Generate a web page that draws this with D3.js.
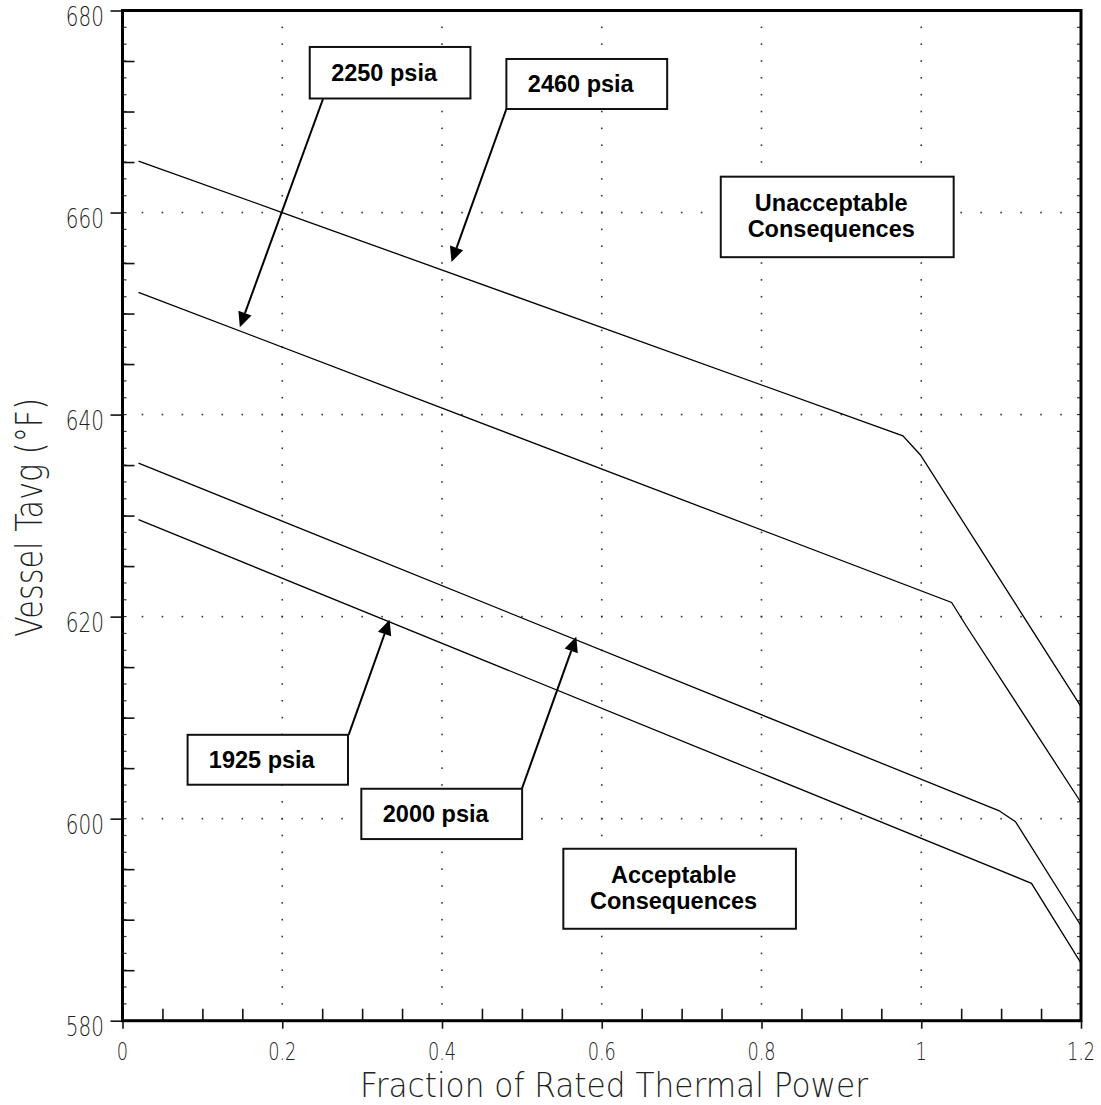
<!DOCTYPE html>
<html>
<head>
<meta charset="utf-8">
<script src="https://cdn.jsdelivr.net/npm/d3@7"></script>
<style>
  html, body { margin: 0; padding: 0; background: #fff; }
  svg { display: block; }
</style>
</head>
<body>
<svg id="chart" width="1101" height="1105"></svg>
<script>
// ---------------- DATA ----------------
const xTicks = [0, 0.2, 0.4, 0.6, 0.8, 1, 1.2];
const xTickLabels = ["0", "0.2", "0.4", "0.6", "0.8", "1", "1.2"];
const yTicks = [580, 600, 620, 640, 660, 680];
const yTickLabels = ["580", "600", "620", "640", "660", "680"];

// Series: x = fraction of rated thermal power, y = vessel Tavg (F)
const seriesNames = ["2460 psia", "2250 psia", "2000 psia", "1925 psia"];
const p2460x = [0.02, 0.2, 0.977, 0.999, 1.2];
const p2460y = [665.1, 660.0, 637.9, 636.0, 611.1];
const p2250x = [0.02, 1.038, 1.057, 1.2];
const p2250y = [652.1, 621.4, 619.0, 601.6];
const p2000x = [0.02, 1.097, 1.118, 1.2];
const p2000y = [635.2, 600.8, 599.7, 589.4];
const p1925x = [0.02, 1.138, 1.2];
const p1925y = [629.6, 593.6, 585.7];

const xTitle = "Fraction of Rated Thermal Power";
const yTitle = "Vessel Tavg (\u00B0F)";

// Annotation text
const boxLabels = [["2250 psia"], ["2460 psia"], ["Unacceptable", "Consequences"],
                   ["1925 psia"], ["2000 psia"], ["Acceptable", "Consequences"]];

// ---------------- LAYOUT ----------------
const svg = d3.select("#chart");
const x = d3.scaleLinear().domain([0, 1.2]).range([122.5, 1081]);
const y = d3.scaleLinear().domain([580, 680]).range([1020.7, 10.5]);

// annotation geometry in data units [x0, yTop, x1, yBottom]
const boxGeom = [
  [0.2344, 676.39, 0.4356, 671.29],
  [0.4806, 675.20, 0.6819, 670.25],
  [0.7490, 663.55, 1.0406, 655.58],
  [0.0815, 608.30, 0.2823, 603.36],
  [0.2990, 602.96, 0.5003, 597.98],
  [0.5519, 597.02, 0.8431, 589.10]
];
// arrows: [xFrom, yFrom, xTip, yTip]
const arrowGeom = [
  [0.2510, 671.24, 0.1469, 648.65],
  [0.4806, 670.25, 0.4119, 655.11],
  [0.2831, 608.30, 0.3344, 619.68],
  [0.5000, 602.96, 0.5681, 618.00]
];

// ---------------- GRID (dotted) ----------------
const grid = svg.append("g").attr("fill", "#333");
const gridX = [0.2, 0.4, 0.6, 0.8, 1.0];
const gridY = [600, 620, 640, 660];
const vDotVals = d3.range(1, 60).map(k => 580 + k * 5 / 3);
const hDotVals = d3.range(1, 48).map(k => k * 0.025);
gridX.forEach(gx => {
  grid.selectAll(null).data(vDotVals).enter().append("rect")
    .attr("x", x(gx) - 0.8).attr("y", d => y(d) - 0.8)
    .attr("width", 1.6).attr("height", 1.6);
});
gridY.forEach(gy => {
  grid.selectAll(null).data(hDotVals).enter().append("rect")
    .attr("x", d => x(d) - 0.8).attr("y", y(gy) - 0.8)
    .attr("width", 1.6).attr("height", 1.6);
});
// small marks along left/right frame
[0, 1.2].forEach(ex => {
  grid.selectAll(null).data(vDotVals).enter().append("rect")
    .attr("x", ex === 0 ? x(ex) : x(ex) - 4).attr("y", d => y(d) - 0.6)
    .attr("width", 4).attr("height", 1.2);
});

// ---------------- SERIES ----------------
const line = d3.line().x(d => x(d[0])).y(d => y(d[1]));
const allSeries = [
  d3.zip(p2460x, p2460y), d3.zip(p2250x, p2250y),
  d3.zip(p2000x, p2000y), d3.zip(p1925x, p1925y)
];
svg.append("g").selectAll("path").data(allSeries).enter().append("path")
  .attr("d", line).attr("fill", "none").attr("stroke", "#000").attr("stroke-width", 1.3);

// ---------------- AXES ----------------
const tickFont = "'DejaVu Sans', sans-serif";
// bottom: major ticks outward
svg.append("g").attr("transform", `translate(0,${y(580)})`)
  .call(d3.axisBottom(x).tickValues(xTicks).tickSize(8).tickFormat(""));
// bottom minor inward
svg.append("g").attr("transform", `translate(0,${y(580)})`)
  .call(d3.axisTop(x).tickValues(d3.range(1, 24).map(k => k * 0.05).filter(v => Math.abs(v * 5 - Math.round(v * 5)) > 1e-6))
        .tickSize(12).tickFormat(""));
// left: major ticks outward
svg.append("g").attr("transform", `translate(${x(0)},0)`)
  .call(d3.axisLeft(y).tickValues(yTicks).tickSize(12).tickFormat(""));
// left minor inward
svg.append("g").attr("transform", `translate(${x(0)},0)`)
  .call(d3.axisRight(y).tickValues(d3.range(585, 680, 5).filter(v => v % 20 !== 0)).tickSize(12).tickFormat(""));

svg.selectAll(".domain").remove();
svg.selectAll(".tick line").attr("stroke", "#111").attr("stroke-width", 1.6);

// frame
svg.append("rect").attr("x", x(0)).attr("y", y(680))
  .attr("width", x(1.2) - x(0)).attr("height", y(580) - y(680))
  .attr("fill", "none").attr("stroke", "#000").attr("stroke-width", 3);

// tick labels
svg.append("g").selectAll("text").data(xTicks).enter().append("text")
  .attr("transform", (d) => `translate(${x(d)},1060) scale(0.74,1)`)
  .attr("text-anchor", "middle")
  .style("font-family", tickFont).style("font-weight", 200).style("font-size", "24px")
  .attr("fill", "#222")
  .text((d, i) => xTickLabels[i]);

svg.append("g").selectAll("text").data(yTicks).enter().append("text")
  .attr("transform", (d) => `translate(104,${y(d) + 15}) scale(0.74,1)`)
  .attr("text-anchor", "end")
  .style("font-family", tickFont).style("font-weight", 200).style("font-size", "27px")
  .attr("fill", "#222")
  .text((d, i) => yTickLabels[i]);

// axis titles
svg.append("text")
  .attr("x", 360).attr("y", 1097)
  .attr("textLength", 508).attr("lengthAdjust", "spacingAndGlyphs")
  .style("font-family", tickFont).style("font-weight", 200).style("font-size", "33px")
  .attr("fill", "#222")
  .text(xTitle);

svg.append("text")
  .attr("transform", "translate(42,637) rotate(-90)")
  .attr("textLength", 239).attr("lengthAdjust", "spacingAndGlyphs")
  .style("font-family", tickFont).style("font-weight", 200).style("font-size", "38px")
  .attr("fill", "#222")
  .text(yTitle);

// ---------------- ANNOTATIONS ----------------
const ann = svg.append("g");
// arrows
arrowGeom.forEach(a => {
  const x1 = x(a[0]), y1 = y(a[1]), x2 = x(a[2]), y2 = y(a[3]);
  const ang = Math.atan2(y2 - y1, x2 - x1);
  const L = 15, W = 7;
  const bx = x2 - L * Math.cos(ang), by = y2 - L * Math.sin(ang);
  ann.append("line").attr("x1", x1).attr("y1", y1).attr("x2", bx).attr("y2", by)
    .attr("stroke", "#000").attr("stroke-width", 2);
  const px = -Math.sin(ang), py = Math.cos(ang);
  ann.append("path")
    .attr("d", `M${x2},${y2}L${bx + px * W},${by + py * W}L${bx - px * W},${by - py * W}Z`)
    .attr("fill", "#000");
});
// boxes
boxGeom.forEach((b, i) => {
  const bx0 = x(b[0]), by0 = y(b[1]), bx1 = x(b[2]), by1 = y(b[3]);
  ann.append("rect").attr("x", bx0).attr("y", by0)
    .attr("width", bx1 - bx0).attr("height", by1 - by0)
    .attr("fill", "#fff").attr("stroke", "#111").attr("stroke-width", 2);
  const cx = (bx0 + bx1) / 2 - 6, cy = (by0 + by1) / 2;
  const lines = boxLabels[i];
  const offs = lines.length === 1 ? [8] : [-6, 20];
  lines.forEach((t, j) => {
    ann.append("text").attr("x", cx).attr("y", cy + offs[j])
      .attr("text-anchor", "middle")
      .style("font-family", "'Liberation Sans', Arial, sans-serif")
      .style("font-weight", "bold").style("font-size", "23.5px")
      .attr("fill", "#000")
      .text(t);
  });
});
</script>
</body>
</html>
